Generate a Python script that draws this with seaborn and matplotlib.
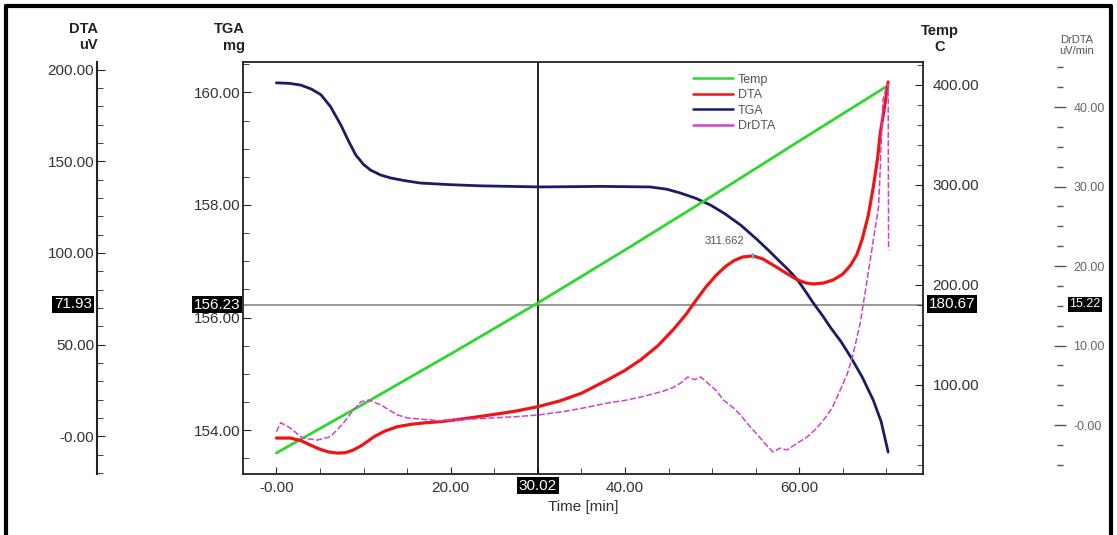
import numpy as np
import pandas as pd
import matplotlib.pyplot as plt
import seaborn as sns
from matplotlib.lines import Line2D
from matplotlib.ticker import MultipleLocator, FuncFormatter

sns.set_style('white')
plt.rcParams['font.family'] = ['Liberation Sans', 'DejaVu Sans']

# ---------------------------------------------------------------------------
# Data (time in min)
# ---------------------------------------------------------------------------
temp_time = [0.0, 10.0, 20.0, 30.0, 40.0, 50.0, 60.0, 70.1]
temp_c = [32, 81, 131, 182, 235, 289, 344, 399]

tga_time = [0.0, 1.5, 2.8, 4.0, 5.1, 6.2, 7.4, 8.3, 9.1, 10.0, 10.8, 12.0, 13.1,
            14.8, 16.5, 20.0, 23.4, 30.3, 37.2, 42.9, 44.8, 46.4, 48.1, 49.8,
            51.5, 53.3, 55.2, 56.5, 57.8, 58.8, 59.8, 60.7, 61.6, 62.6, 63.6,
            64.8, 65.9, 67.2, 68.5, 69.4, 70.2]
tga_mg = [160.17, 160.16, 160.13, 160.06, 159.96, 159.75, 159.42, 159.13, 158.89,
          158.72, 158.62, 158.53, 158.48, 158.43, 158.39, 158.36, 158.34, 158.32,
          158.33, 158.32, 158.28, 158.21, 158.12, 158.00, 157.84, 157.64, 157.38,
          157.19, 156.99, 156.84, 156.67, 156.47, 156.26, 156.05, 155.82, 155.57,
          155.30, 154.95, 154.53, 154.15, 153.61]

dta_time = [0.0, 1.6, 2.8, 3.9, 5.0, 6.0, 7.0, 7.9, 8.8, 9.7, 10.5, 11.2, 12.5,
            13.9, 15.5, 17.0, 18.8, 21.5, 24.6, 27.5, 30.0, 32.5, 35.0, 38.0,
            40.0, 41.8, 43.8, 45.6, 47.0, 48.2, 49.3, 50.4, 51.5, 52.5, 53.5,
            54.7, 55.8, 57.0, 58.5, 59.8, 60.8, 61.6, 62.8, 63.9, 65.0, 65.9,
            66.6, 67.2, 67.9, 68.5, 69.0, 69.3, 69.8, 70.2]
dta_uv = [-0.9, -0.9, -2.3, -4.7, -7.0, -8.5, -9.1, -8.9, -7.5, -5.2, -2.6, -0.2,
          3.0, 5.3, 6.6, 7.4, 8.0, 9.6, 11.7, 13.8, 16.2, 19.3, 23.5, 30.8, 36.0,
          41.7, 49.5, 58.5, 66.5, 74.5, 81.5, 87.5, 92.5, 95.8, 97.8, 98.4, 96.8,
          93.4, 89.0, 85.3, 83.6, 83.1, 83.6, 85.3, 88.5, 93.4, 99.0, 107.1,
          120.0, 136.0, 152.0, 165.4, 180.0, 193.2]

drdta_time = [0.0, 0.5, 1.6, 3.0, 4.7, 6.2, 7.7, 8.7, 9.7, 10.6, 12.0, 13.9,
              15.1, 18.8, 21.5, 24.6, 27.5, 30.0, 33.0, 35.5, 38.0, 40.0, 41.8,
              43.2, 44.5, 45.5, 46.4, 47.2, 48.0, 48.7, 49.5, 50.5, 51.3, 52.5,
              53.3, 54.0, 55.5, 56.2, 57.0, 57.8, 58.6, 59.6, 60.9, 61.9, 62.8,
              63.8, 64.7, 65.5, 66.1, 67.0, 67.6, 68.2, 68.5, 69.1, 69.3, 69.6,
              69.9, 70.2, 70.25]
drdta_uv_min = [-0.84, 0.29, -0.38, -1.64, -1.89, -1.47, 0.25, 1.70, 2.93, 3.14,
                2.52, 1.26, 0.88, 0.54, 0.70, 0.88, 1.05, 1.26, 1.70, 2.20, 2.77,
                3.10, 3.52, 3.90, 4.30, 4.70, 5.28, 6.04, 5.70, 6.04, 5.28, 4.30,
                3.14, 2.10, 1.20, 0.25, -1.60, -2.50, -3.40, -2.90, -3.14, -2.40,
                -1.51, -0.50, 0.63, 2.20, 4.40, 6.40, 8.55, 12.83, 16.98, 21.13,
                23.27, 27.42, 32.45, 40.88, 42.14, 42.90, 22.0]

cursor_time = 30.02
cursor_dta = 71.93
cursor_tga = 156.23
cursor_temp = 180.67
cursor_drdta = 15.22
peak_label = '311.662'

series_names = ['Temp', 'DTA', 'TGA', 'DrDTA']
series_colors = ['#2fd62f', '#ee1515', '#1b1b66', '#d040d0']

# ---------------------------------------------------------------------------
W, H = 1117, 535
fig = plt.figure(figsize=(W / 100, H / 100), dpi=100)
ax = fig.add_axes([243 / W, 1 - 474 / H, 680 / W, 412 / H])
ax_temp = ax.twinx()
ax_dta = ax.twinx()
ax_dr = ax.twinx()

def fmt(v, pos):
    return '-0.00' if abs(v) < 1e-9 else f'{v:.2f}'

tick_col = '#333333'

# cursor lines (behind curves)
ax.axvline(cursor_time, color='black', lw=1.2, zorder=1)
ax.axhline(cursor_tga, color='#888888', lw=1.2, zorder=1)

sns.lineplot(x=tga_time, y=tga_mg, ax=ax, color=series_colors[2], lw=2,
             sort=False, estimator=None)
sns.lineplot(x=temp_time, y=temp_c, ax=ax_temp, color=series_colors[0], lw=2,
             sort=False, estimator=None)
sns.lineplot(x=dta_time, y=dta_uv, ax=ax_dta, color=series_colors[1], lw=2.3,
             sort=False, estimator=None)
sns.lineplot(x=drdta_time, y=drdta_uv_min, ax=ax_dr, color=series_colors[3], lw=1.1,
             sort=False, estimator=None, linestyle=(0, (4, 1.5)))

# limits
ax.set_xlim(-3.83, 74.2)
ax.set_ylim(153.22, 160.54)
ax_temp.set_ylim(11, 423)
ax_dta.set_ylim(-20.5, 204.1)
ax_dr.set_ylim(-6.16, 45.66)

for a in (ax, ax_temp, ax_dta, ax_dr):
    a.set_xlabel('')
    a.set_ylabel('')

# main axes: time + TGA
for s in ax.spines.values():
    s.set_color('#222222')
    s.set_linewidth(1.3)
ax.spines['right'].set_visible(False)
ax.xaxis.set_major_locator(MultipleLocator(20))
ax.xaxis.set_minor_locator(MultipleLocator(5))
ax.yaxis.set_major_locator(MultipleLocator(2))
ax.yaxis.set_minor_locator(MultipleLocator(0.5))
ax.xaxis.set_major_formatter(FuncFormatter(fmt))
ax.yaxis.set_major_formatter(FuncFormatter(fmt))
ax.tick_params(axis='x', which='both', direction='in', bottom=True, top=False,
               labelsize=11, labelcolor=tick_col, pad=5)
ax.tick_params(axis='x', which='major', length=5)
ax.tick_params(axis='x', which='minor', length=4)
ax.tick_params(axis='y', which='both', direction='in', left=True, right=False,
               labelsize=11, labelcolor=tick_col, pad=2)
ax.tick_params(axis='y', which='major', length=6)
ax.tick_params(axis='y', which='minor', length=4)
ax.set_xlabel('Time [min]', fontsize=11, color=tick_col)
ax.xaxis.set_label_coords(0.5, -0.062)

# temperature axis (right spine of the frame)
for k, s in ax_temp.spines.items():
    s.set_visible(k == 'right')
ax_temp.spines['right'].set_color('#222222')
ax_temp.spines['right'].set_linewidth(1.3)
ax_temp.yaxis.set_major_locator(MultipleLocator(100))
ax_temp.yaxis.set_minor_locator(MultipleLocator(20))
ax_temp.yaxis.set_major_formatter(FuncFormatter(fmt))
ax_temp.tick_params(axis='y', which='both', direction='in', labelsize=11,
                    labelcolor=tick_col, pad=7)
ax_temp.tick_params(axis='y', which='major', length=6)
ax_temp.tick_params(axis='y', which='minor', length=4)

# DTA axis (outer left)
for k, s in ax_dta.spines.items():
    s.set_visible(k == 'left')
ax_dta.spines['left'].set_position(('axes', (97 - 243) / 680))
ax_dta.spines['left'].set_color('#222222')
ax_dta.spines['left'].set_linewidth(1.5)
ax_dta.yaxis.set_ticks_position('left')
ax_dta.yaxis.set_label_position('left')
ax_dta.yaxis.set_major_locator(MultipleLocator(50))
ax_dta.yaxis.set_minor_locator(MultipleLocator(10))
ax_dta.yaxis.set_major_formatter(FuncFormatter(fmt))
ax_dta.tick_params(axis='y', which='both', direction='in', labelsize=11,
                   labelcolor=tick_col, pad=2)
ax_dta.tick_params(axis='y', which='major', length=6)
ax_dta.tick_params(axis='y', which='minor', length=4)

# DrDTA axis (outer right, no spine line)
for k, s in ax_dr.spines.items():
    s.set_visible(k == 'right')
ax_dr.spines['right'].set_position(('axes', (1060 - 243) / 680))
ax_dr.spines['right'].set_color('none')
ax_dr.yaxis.set_major_locator(MultipleLocator(10))
ax_dr.yaxis.set_minor_locator(MultipleLocator(2.5))
ax_dr.yaxis.set_major_formatter(FuncFormatter(fmt))
ax_dr.tick_params(axis='y', which='both', direction='inout', labelsize=9,
                  labelcolor='#666666', color='#555555', pad=5)
ax_dr.tick_params(axis='y', which='major', length=9, width=1)
ax_dr.tick_params(axis='y', which='minor', length=4, width=1)

# cursor readouts
box = dict(boxstyle='square,pad=0.12', fc='black', ec='none')
ax_dta.text((92 - 243) / 680, cursor_dta, f'{cursor_dta:.2f}',
            transform=ax_dta.get_yaxis_transform(), ha='right', va='center',
            color='white', fontsize=11, bbox=box, zorder=10)
ax.text(-0.004, cursor_tga, f'{cursor_tga:.2f}', transform=ax.get_yaxis_transform(),
        ha='right', va='center', color='white', fontsize=11, bbox=box, zorder=10)
ax_temp.text(1.009, cursor_temp, f'{cursor_temp:.2f}',
             transform=ax_temp.get_yaxis_transform(), ha='left', va='center',
             color='white', fontsize=11, bbox=box, zorder=10)
ax_dr.text((1069 - 243) / 680, cursor_drdta, f'{cursor_drdta:.2f}',
           transform=ax_dr.get_yaxis_transform(), ha='left', va='center',
           color='white', fontsize=9, bbox=box, zorder=10)
ax.text(cursor_time, -0.028, f'{cursor_time:.2f}', transform=ax.get_xaxis_transform(),
        ha='center', va='center', color='white', fontsize=11, bbox=box, zorder=10)

# DTA peak label
dta_t = np.array(dta_time)
dta_v = np.array(dta_uv)
mask = dta_t < 60
pk = np.argmax(np.where(mask, dta_v, -np.inf))
ax_dta.plot(dta_t[pk], dta_v[pk], marker='|', color='#33dddd', ms=5, mew=1.2)
ax_dta.annotate(peak_label, xy=(dta_t[pk], dta_v[pk]), xytext=(-21, 11),
                textcoords='offset points', ha='center', va='center',
                fontsize=8, color='#555555')

# legend
handles = [Line2D([], [], color=c, lw=1.8) for c in series_colors]
leg = ax_dr.legend(handles, series_names, loc='upper left',
                   bbox_to_anchor=(0.662, 0.972), frameon=False, fontsize=9,
                   handlelength=3.2, handletextpad=0.4, labelspacing=0.28,
                   borderpad=0, borderaxespad=0)
for t in leg.get_texts():
    t.set_color('#555555')

# axis titles
fig.text(98 / W, 1 - 22 / H, 'DTA\nuV', ha='right', va='top', fontsize=10.5,
         fontweight='bold', color='#222222', linespacing=1.15, multialignment='right')
fig.text(245 / W, 1 - 22 / H, 'TGA\nmg', ha='right', va='top', fontsize=10.5,
         fontweight='bold', color='#222222', linespacing=1.25, multialignment='right')
fig.text(940 / W, 1 - 24 / H, 'Temp\nC', ha='center', va='top', fontsize=10.5,
         fontweight='bold', color='#222222', linespacing=1.2, multialignment='center')
fig.text(1077 / W, 1 - 35 / H, 'DrDTA\nuV/min', ha='center', va='top', fontsize=8,
         color='#555555', linespacing=1.1, multialignment='center')

# outer border
for xs, ys in [([6 / W, 6 / W], [0, 1 - 6 / H]),
               ([6 / W, 1111 / W], [1 - 6 / H, 1 - 6 / H]),
               ([1111 / W, 1111 / W], [0, 1 - 6 / H])]:
    fig.add_artist(Line2D(xs, ys, transform=fig.transFigure, color='black', lw=3))

plt.savefig('out.png', dpi=100)
plt.close()
